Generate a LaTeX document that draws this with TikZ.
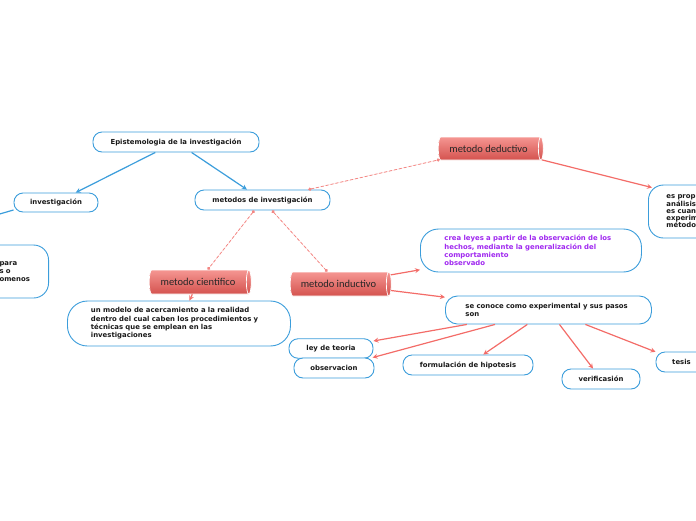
\documentclass[tikz,border=0pt]{standalone}
\usepackage{fontspec}
\setmainfont{DejaVu Sans}
\newfontfamily\cylfont{Carlito}
\usetikzlibrary{shapes.geometric, arrows, arrows.meta, positioning, calc}
\definecolor{mmblue}{RGB}{59,157,219}
\definecolor{mmred}{RGB}{243,108,104}
\definecolor{mmdash}{RGB}{243,135,132}
\definecolor{mmpurple}{RGB}{160,40,240}
\definecolor{cyltop}{RGB}{245,150,146}
\definecolor{cylbot}{RGB}{212,82,78}
\definecolor{mmtext}{RGB}{25,25,25}

\begin{document}
\begin{tikzpicture}[
    x=1pt, y=-1pt,
    box/.style={draw=mmblue, fill=white, line width=0.9pt, rounded corners=9pt, text=mmtext, font=\bfseries\fontsize{6.9}{8.3}\selectfont, inner ysep=2pt},
    bigbox/.style={box, align=left, anchor=west},
    cyl/.style={cylinder, shape aspect=0.35, draw=white, line width=0.7pt, top color=cyltop, bottom color=cylbot, text=black!85, font=\cylfont\fontsize{10.5}{12}\selectfont},
    arrow/.style={->, >=stealth, line width=1.2pt},
    bluearrow/.style={arrow, draw=mmblue},
    redarrow/.style={arrow, draw=mmred, line width=1.2pt},
    dashline/.style={{Circle[length=3.2pt]}-{Circle[length=3.2pt]}, draw=mmdash, fill=mmdash, line width=0.8pt, dash pattern=on 3pt off 2pt}
]
% frame
\useasboundingbox (0,0) rectangle (696,520);
\clip (0,0) rectangle (696,520);

% blue topics
\node[box, minimum width=166pt, minimum height=20pt] (epis) at (176,142) {Epistemologia de la investigación};
\node[box, minimum width=84pt, minimum height=19pt] (inv) at (56,202.5) {investigación};
\node[box, minimum width=135pt, minimum height=20pt] (metodos) at (262.5,200) {metodos de investigación};
\node[bigbox, anchor=east, rounded corners=15pt, minimum height=53pt, inner xsep=19pt, text width=30pt] (izq) at (49,271.5) {para\\s o\\omenos};
\coordinate (invend) at (-56,230);

% red methods
\node[cyl, minimum height=105pt, minimum width=23pt] (deduct) at (488.5,148.5) {metodo deductivo};
\node[cyl, minimum height=102pt, minimum width=24pt] (cient) at (198,282) {metodo cientifico};
\node[cyl, minimum height=101pt, minimum width=24pt] (induct) at (338.5,284) {metodo inductivo};

% descriptions
\node[bigbox, rounded corners=15pt, minimum height=53pt, inner xsep=18pt, text width=60pt, font=\bfseries\fontsize{6.9}{7.3}\selectfont] (der) at (648,211.5) {es prop\\análisis\\es cuan\\experim\\método};
\node[bigbox, rounded corners=20pt, minimum height=45pt, inner xsep=23.5pt, text width=176pt] (modelo) at (67,323.5) {un modelo de acercamiento a la realidad\\dentro del cual caben los procedimientos y\\técnicas que se emplean en las\\investigaciones};
\node[bigbox, rounded corners=18pt, minimum height=43pt, inner xsep=24pt, text width=173pt, text=mmpurple] (crea) at (420,250.5) {crea leyes a partir de la observación de los\\hechos, mediante la generalización del\\comportamiento\\observado};
\node[bigbox, rounded corners=12pt, minimum height=28pt, inner xsep=20pt, text width=166pt] (conoce) at (445,310) {se conoce como experimental y sus pasos\\son};

% steps
\node[box, minimum width=84pt, minimum height=19.5pt] (ley) at (331,348.5) {ley de teoria};
\node[box, minimum width=80pt, minimum height=20pt] (obs) at (334,368) {observacion};
\node[box, minimum width=130pt, minimum height=20pt] (formul) at (468,365) {formulación de hipotesis};
\node[box, minimum width=78pt, minimum height=20pt] (verif) at (601,379) {verificasión};
\node[box, minimum width=51pt, minimum height=20pt] (tesis) at (681.5,362) {tesis};

% connectors
\draw[bluearrow] (epis) -- (inv);
\draw[bluearrow] (epis) -- (metodos);
\draw[bluearrow] (inv.-170) -- (invend);
\draw[dashline] (metodos) -- (deduct);
\draw[dashline] (metodos) -- (cient);
\draw[dashline] (metodos) -- (induct);
\draw[redarrow] (deduct.-12) -- ($(der.north west)+(4,3)$);
\draw[redarrow] (cient) -- (modelo);
\draw[redarrow] (induct) -- (crea);
\draw[redarrow] (induct) -- (conoce);
\draw[redarrow] (conoce) -- (ley);
\draw[redarrow] (conoce) -- (obs);
\draw[redarrow] (conoce) -- (formul);
\draw[redarrow] (conoce) -- (verif);
\draw[redarrow] (conoce) -- (tesis);
\end{tikzpicture}
\end{document}
